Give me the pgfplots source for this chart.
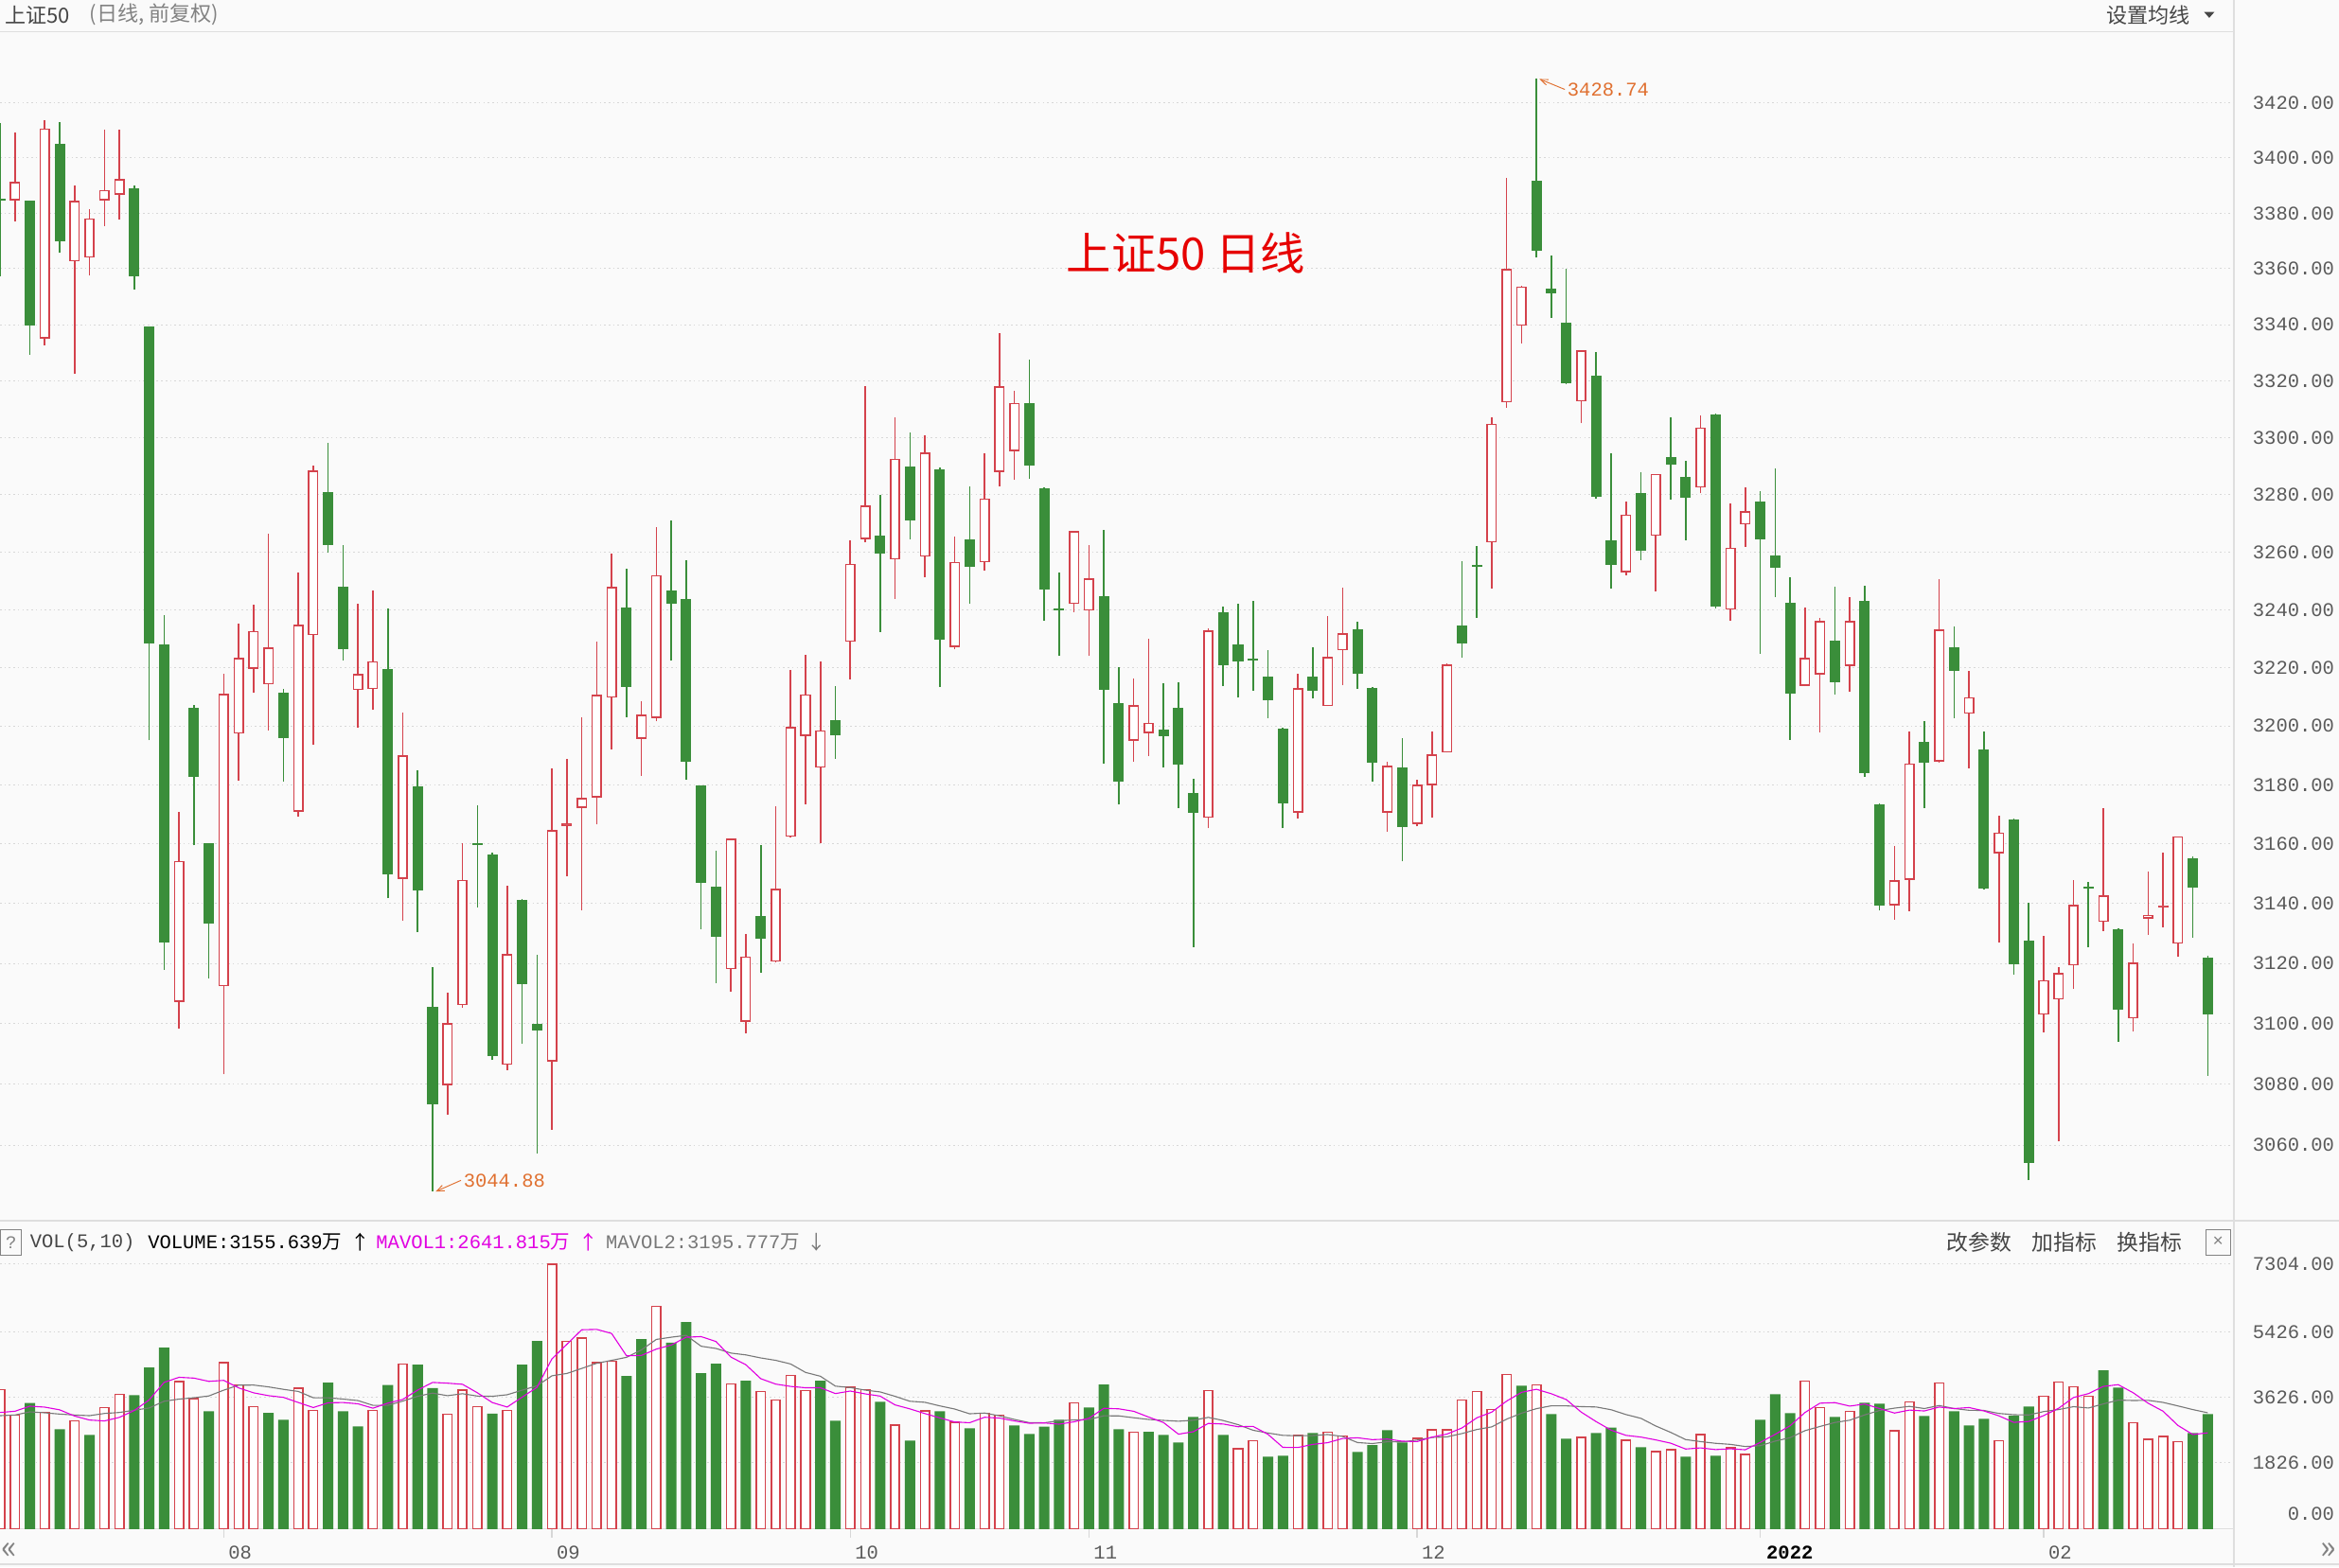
\documentclass[border=0pt]{standalone}
\usepackage{pgfplots}
\pgfplotsset{compat=1.18}
\usepackage{pgfplotstable}
\usepackage{fontspec}
\setmainfont{Liberation Mono}
\newfontfamily\cjk{Noto Sans CJK SC}
\usetikzlibrary{arrows.meta}

\definecolor{upc}{RGB}{212,66,76}
\definecolor{dnc}{RGB}{58,142,58}
\definecolor{bgc}{RGB}{250,250,250}
\definecolor{gridc}{RGB}{215,215,215}
\definecolor{sepc}{RGB}{222,222,222}
\definecolor{labc}{RGB}{90,90,90}
\definecolor{ma1c}{RGB}{225,0,225}
\definecolor{ma2c}{RGB}{120,120,120}
\definecolor{annc}{RGB}{224,112,48}
\definecolor{titc}{RGB}{230,0,0}
\definecolor{hdra}{RGB}{70,70,70}
\definecolor{hdrb}{RGB}{130,130,130}

% ---------- candles: close above open ----------
\pgfplotstableread{
i o h l c
1 3384.6 3409.2 3377.0 3391.3
3 3335.1 3413.8 3332.8 3410.8
5 3362.7 3390.1 3322.7 3384.6
6 3364.1 3381.6 3357.7 3378.2
7 3384.6 3410.3 3375.5 3388.3
8 3386.7 3410.3 3377.7 3392.4
12 3107.1 3170.8 3098.3 3154.3
15 3112.3 3217.8 3083.2 3211.1
16 3197.4 3235.2 3181.5 3223.5
17 3219.6 3241.8 3211.3 3232.6
18 3214.2 3266.4 3198.5 3227.0
20 3170.8 3252.9 3169.3 3234.8
21 3231.1 3290.2 3193.7 3288.4
24 3212.4 3242.2 3199.5 3217.9
25 3212.7 3246.8 3205.6 3222.2
27 3148.2 3204.5 3134.2 3190.1
30 3079.7 3110.1 3070.1 3100.2
31 3106.1 3160.3 3105.3 3147.9
34 3086.4 3146.0 3084.8 3123.2
37 3087.4 3185.5 3065.0 3164.8
38 3166.1 3188.8 3149.2 3166.9
39 3172.1 3203.2 3137.9 3175.6
40 3175.6 3228.9 3166.6 3210.7
41 3209.7 3259.7 3192.1 3247.9
43 3195.6 3208.5 3183.1 3204.0
44 3202.7 3268.7 3201.6 3252.1
49 3117.9 3161.8 3110.5 3161.7
50 3100.5 3129.8 3096.8 3122.3
52 3120.5 3172.6 3120.3 3144.8
53 3162.4 3219.2 3162.3 3199.7
54 3196.7 3224.5 3173.4 3210.9
55 3185.8 3222.3 3160.5 3198.7
57 3228.9 3264.2 3216.0 3255.9
58 3264.5 3318.4 3263.4 3276.1
60 3257.3 3307.3 3243.8 3292.7
62 3258.4 3301.1 3251.4 3294.8
64 3227.1 3265.5 3226.4 3256.6
66 3256.4 3294.4 3253.7 3278.6
67 3287.9 3336.9 3283.1 3318.2
68 3295.2 3316.7 3285.2 3312.2
72 3242.0 3267.3 3239.2 3267.3
73 3239.6 3262.3 3224.1 3250.7
76 3195.0 3216.4 3187.9 3207.3
77 3197.5 3229.9 3189.9 3201.1
81 3168.7 3233.4 3165.3 3232.8
87 3170.5 3217.9 3168.8 3213.0
89 3206.8 3237.8 3206.8 3223.8
90 3226.0 3247.5 3214.1 3231.9
93 3170.5 3187.9 3164.2 3186.5
95 3166.7 3181.9 3166.0 3180.2
96 3179.8 3198.2 3169.1 3190.4
97 3190.9 3221.4 3190.9 3221.1
100 3263.3 3307.2 3247.5 3305.0
101 3312.4 3392.9 3310.5 3360.0
102 3339.6 3354.0 3333.5 3353.8
106 3312.7 3331.0 3305.0 3331.0
109 3252.9 3277.5 3252.1 3273.0
111 3265.5 3287.3 3246.4 3287.3
114 3282.5 3307.9 3280.5 3303.5
116 3240.0 3276.9 3236.4 3261.6
117 3269.6 3282.6 3261.9 3274.2
121 3213.8 3240.8 3213.7 3223.3
122 3217.7 3237.1 3197.9 3236.1
124 3220.5 3244.4 3211.9 3236.1
127 3139.4 3159.4 3134.6 3147.8
128 3147.8 3198.3 3137.4 3187.3
130 3187.9 3250.5 3187.7 3233.2
132 3204.1 3218.9 3185.7 3209.8
134 3156.7 3169.6 3127.0 3163.8
137 3102.9 3129.2 3097.2 3114.5
138 3107.9 3118.7 3061.3 3116.7
139 3119.3 3148.0 3111.4 3139.5
141 3133.8 3172.2 3130.9 3142.7
143 3101.6 3126.6 3097.6 3120.3
144 3134.9 3150.7 3129.6 3136.2
145 3138.6 3157.0 3132.1 3139.4
146 3126.5 3162.7 3122.3 3162.7
}\candleup

% ---------- candles: close at or below open ----------
\pgfplotstableread{
i o h l c
0 3385.2 3412.6 3357.3 3384.4
2 3384.6 3384.6 3329.4 3339.6
4 3405.1 3413.1 3365.7 3369.8
9 3389.0 3390.0 3352.7 3357.3
10 3339.6 3339.6 3195.2 3228.3
11 3228.0 3238.0 3117.8 3126.8
13 3206.2 3207.3 3159.6 3182.6
14 3160.2 3160.2 3115.1 3133.2
19 3211.3 3212.7 3181.1 3195.7
22 3281.0 3298.3 3259.7 3262.5
23 3248.1 3262.5 3222.7 3226.3
26 3219.7 3240.5 3141.8 3149.8
28 3179.5 3185.1 3130.6 3144.4
29 3105.6 3118.9 3044.88 3073.3
32 3160.3 3173.1 3138.7 3159.5
33 3156.6 3157.0 3088.0 3089.3
35 3141.1 3141.5 3093.3 3113.1
36 3100.0 3122.9 3057.3 3097.6
42 3240.8 3254.2 3203.2 3213.5
45 3246.8 3271.0 3222.3 3242.1
46 3243.7 3257.3 3181.9 3188.0
47 3180.0 3180.0 3131.5 3146.8
48 3145.5 3157.7 3113.5 3128.8
51 3135.9 3159.7 3117.0 3128.2
56 3201.9 3213.6 3188.8 3196.8
59 3265.8 3279.8 3232.4 3259.5
61 3289.8 3301.8 3264.5 3270.8
63 3289.2 3289.5 3213.6 3229.8
65 3264.4 3282.8 3242.1 3254.9
69 3312.2 3327.7 3285.6 3290.4
70 3282.3 3282.6 3236.3 3247.1
71 3240.4 3252.8 3224.1 3239.6
74 3244.8 3267.6 3187.2 3212.3
75 3208.0 3220.3 3173.3 3181.2
78 3198.8 3214.7 3185.8 3196.4
79 3206.3 3215.1 3172.3 3186.8
80 3177.3 3182.1 3125.5 3170.5
82 3239.2 3241.0 3214.0 3221.0
83 3227.8 3242.1 3209.8 3222.2
84 3223.2 3243.2 3212.3 3222.4
85 3217.0 3226.1 3203.0 3209.0
86 3199.1 3199.5 3165.3 3173.7
88 3217.0 3227.1 3209.5 3212.1
91 3233.3 3236.0 3212.9 3218.0
92 3213.3 3213.4 3181.1 3187.4
94 3186.0 3195.9 3154.0 3165.6
98 3234.5 3256.9 3223.3 3228.2
99 3255.6 3262.0 3237.3 3254.8
103 3391.8 3428.74 3364.1 3366.5
104 3352.9 3364.7 3342.6 3351.2
105 3340.9 3360.0 3318.9 3319.3
107 3321.7 3330.5 3278.5 3279.1
108 3264.1 3294.4 3247.4 3255.6
110 3280.7 3288.0 3257.3 3260.5
112 3293.2 3307.1 3278.5 3290.5
113 3286.2 3292.0 3264.1 3278.8
115 3308.2 3308.5 3240.5 3240.9
118 3277.6 3281.4 3225.0 3264.4
119 3259.0 3289.3 3244.6 3254.5
120 3242.3 3251.2 3195.3 3211.1
123 3229.5 3248.1 3210.9 3215.1
125 3243.1 3248.1 3182.7 3183.8
126 3173.6 3173.8 3137.6 3139.4
129 3194.7 3201.9 3172.3 3187.4
131 3226.9 3234.3 3202.8 3218.9
133 3192.0 3198.2 3144.7 3145.1
135 3168.3 3168.5 3116.4 3119.6
136 3127.5 3140.1 3048.6 3054.1
140 3145.6 3147.1 3125.3 3144.8
142 3131.4 3131.7 3094.0 3104.6
147 3155.1 3155.7 3128.8 3145.3
148 3122.0 3122.4 3082.8 3102.9
}\candledn

% ---------- volume (10k), up days ----------
\pgfplotstableread{
i v
0 3840
1 3142
3 3220
5 2985
7 3351
8 3709
12 4058
13 3596
15 4582
16 3971
17 3377
20 3875
21 3273
25 3273
27 4547
30 3168
31 3822
32 3377
34 3264
37 7304
38 5175
39 5271
40 4582
41 4625
44 6144
49 3997
51 3788
52 3552
53 4233
54 3814
57 3901
58 3840
60 2871
62 3255
64 2941
66 3185
67 3142
72 3473
76 2670
81 3814
83 2217
84 2435
87 2574
89 2670
90 2566
95 2505
96 2740
97 2740
98 3552
99 3788
100 3290
101 4259
103 3971
106 2531
109 2452
111 2138
112 2190
114 2609
116 2243
117 2060
121 4076
122 3342
124 3238
127 2714
128 3500
130 4023
134 2435
137 3657
138 4049
139 3918
140 3657
143 2932
144 2478
145 2557
146 2409
}\volup

% ---------- volume (10k), down days ----------
\pgfplotstableread{
i v
2 3473
4 2749
6 2592
9 3692
10 4451
11 5001
14 3246
18 3203
19 3011
22 4032
23 3246
24 2828
26 3971
28 4529
29 3884
33 3177
35 4529
36 5184
42 4215
43 5236
45 5140
46 5707
47 4294
48 4556
50 4084
55 4084
56 2985
59 3508
61 2435
63 3246
65 2775
68 2854
69 2618
70 2819
71 3011
73 3351
74 3980
75 2749
77 2679
78 2592
79 2382
80 3089
82 2592
85 1990
86 2016
88 2644
91 2121
92 2313
93 2723
94 2382
102 3953
104 3168
105 2487
107 2644
108 2793
110 2252
113 1990
115 2016
118 3011
119 3718
120 3194
123 3089
125 3482
126 3456
129 3116
131 3246
132 2854
133 3037
135 3124
136 3377
141 4372
142 3901
147 2644
148 3168
}\voldn

% ---------- MAVOL1 (5) and MAVOL2 (10) ----------
\pgfplotstableread{
i m5 m10
0 3212 3124
1 3246 3142
2 3386 3229
3 3360 3203
4 3285 3168
5 3114 3142
6 3004 3124
7 2979 3185
8 3077 3212
9 3266 3275
10 3559 3336
11 4041 3522
12 4182 3581
13 4160 3618
14 4070 3668
15 4097 3828
16 3891 3966
17 3754 3968
18 3676 3918
19 3629 3850
20 3487 3792
21 3348 3619
22 3479 3617
23 3487 3582
24 3451 3540
25 3330 3409
26 3470 3409
27 3573 3526
28 3830 3659
29 4041 3746
30 4020 3675
31 3990 3730
32 3756 3665
33 3486 3658
34 3362 3701
35 3634 3827
36 3906 3948
37 4692 4224
38 5091 4288
39 5493 4427
40 5503 4569
41 5391 4649
42 4774 4733
43 4786 4939
44 4960 5227
45 5072 5288
46 5288 5340
47 5304 5039
48 5168 4977
49 4739 4850
50 4528 4800
51 4144 4716
52 3995 4650
53 3931 4550
54 3894 4317
55 3894 4211
56 3734 3939
57 3803 3899
58 3725 3828
59 3664 3779
60 3421 3658
61 3311 3522
62 3182 3493
63 3063 3394
64 2950 3307
65 2930 3176
66 3080 3196
67 3058 3120
68 2979 3021
69 2915 2932
70 2924 2927
71 2889 2985
72 2955 3006
73 3054 3017
74 3327 3121
75 3313 3118
76 3245 3067
77 3086 3020
78 2934 2994
79 2614 2971
80 2682 2998
81 2911 3078
82 2894 2990
83 2819 2876
84 2829 2722
85 2610 2646
86 2250 2581
87 2246 2570
88 2332 2575
89 2379 2604
90 2494 2552
91 2515 2383
92 2463 2355
93 2479 2405
94 2421 2400
95 2409 2451
96 2533 2524
97 2618 2540
98 2784 2631
99 3065 2743
100 3222 2815
101 3526 3029
102 3768 3193
103 3852 3318
104 3728 3397
105 3568 3395
106 3222 3374
107 2960 3364
108 2725 3288
109 2581 3155
110 2534 3051
111 2456 2839
112 2365 2663
113 2204 2465
114 2236 2409
115 2189 2362
116 2210 2333
117 2184 2274
118 2388 2296
119 2610 2423
120 2845 2517
121 3212 2711
122 3468 2826
123 3484 2936
124 3388 2999
125 3445 3145
126 3321 3267
127 3196 3332
128 3278 3381
129 3254 3321
130 3362 3404
131 3320 3321
132 3348 3272
133 3255 3267
134 3119 3186
135 2939 3151
136 2965 3143
137 3126 3237
138 3328 3292
139 3625 3372
140 3732 3335
141 3931 3448
142 3979 3553
143 3756 3542
144 3468 3547
145 3248 3490
146 2855 3393
147 2604 3292
148 2651 3204
}\mavol

% candle glyphs: drawn at (i, open) for up days and (i, close) for down days;
% offsets in pt follow the axis' logarithmic scale (6283.4 pt per unit of ln price)
\pgfdeclareplotmark{candleup}{%
  \pgfsetlinewidth{1pt}\pgfsetstrokecolor{upc}%
  \pgfpathmoveto{\pgfpoint{0pt}{\cLo pt}}\pgfpathlineto{\pgfpoint{0pt}{\cHi pt}}\pgfusepath{stroke}%
  \pgfsetfillcolor{upc}%
  \pgfpathrectangle{\pgfpoint{-3.5pt}{0pt}}{\pgfpoint{7pt}{\cBh pt}}\pgfusepath{fill}%
  \pgfsetfillcolor{white}%
  \pgfpathrectangle{\pgfpoint{-2.5pt}{1pt}}{\pgfpoint{5pt}{\cBi pt}}\pgfusepath{fill}%
}
\pgfdeclareplotmark{candledn}{%
  \pgfsetlinewidth{1pt}\pgfsetstrokecolor{dnc}%
  \pgfpathmoveto{\pgfpoint{0pt}{\cLo pt}}\pgfpathlineto{\pgfpoint{0pt}{\cHi pt}}\pgfusepath{stroke}%
  \pgfsetfillcolor{dnc}%
  \pgfpathrectangle{\pgfpoint{-3.5pt}{0pt}}{\pgfpoint{7pt}{\cBh pt}}\pgfusepath{fill}%
}

\newcommand\numfont{\fontsize{13}{15}\selectfont}

\begin{document}
\begin{tikzpicture}
\fill[bgc] (0pt,0pt) rectangle (1568pt,1051pt);
\useasboundingbox (0pt,0pt) rectangle (1568pt,1051pt);

\begin{scope}[x=1pt,y=1pt]
\draw[sepc, line width=0.8pt] (0,232.4) -- (1568,232.4);
\draw[sepc, line width=0.8pt] (1497.5,0) -- (1497.5,1051);
\draw[sepc, line width=0.6pt] (0,1029.5) -- (1497,1029.5);
\draw[sepc, line width=0.8pt] (0,25.7) -- (1497,25.7);
\draw[sepc, line width=0.8pt] (0,2) -- (1568,2);
\end{scope}

% ================= price panel (logarithmic price scale) =================
\begin{axis}[
  at={(0pt,233pt)}, anchor=south west, scale only axis,
  width=1497pt, height=796pt,
  xmin=0, xmax=149.7,
  y coord trafo/.code={\pgfmathparse{6283.4*ln(#1/3000)}},
  y coord inv trafo/.code={\pgfmathparse{3000*exp(#1/6283.4)}},
  ymin=3035.7, ymax=3445.7,
  axis line style={draw=none},
  xtick=\empty,
  ytick={3060,3080,3100,3120,3140,3160,3180,3200,3220,3240,3260,3280,3300,3320,3340,3360,3380,3400,3420},
  yticklabels={3060.00,3080.00,3100.00,3120.00,3140.00,3160.00,3180.00,3200.00,3220.00,3240.00,3260.00,3280.00,3300.00,3320.00,3340.00,3360.00,3380.00,3400.00,3420.00},
  ymajorgrids,
  major grid style={gridc, dash pattern=on 1pt off 2pt, line width=0.6pt},
  yticklabel pos=right, ytick pos=right, ytick style={draw=none},
  yticklabel style={anchor=east, inner sep=0pt, xshift=68pt, font=\numfont, text=labc},
  clip mode=individual,
]
\addplot[only marks, mark=candleup,
  visualization depends on={6283.4*ln(\thisrow{h}/\thisrow{o}) \as \cHi},
  visualization depends on={6283.4*ln(\thisrow{l}/\thisrow{o}) \as \cLo},
  visualization depends on={max(6283.4*ln(\thisrow{c}/\thisrow{o}),1.5) \as \cBh},
  visualization depends on={max(6283.4*ln(\thisrow{c}/\thisrow{o})-2,0) \as \cBi},
] table[x=i, y=o] {\candleup};
\addplot[only marks, mark=candledn,
  visualization depends on={6283.4*ln(\thisrow{h}/\thisrow{c}) \as \cHi},
  visualization depends on={6283.4*ln(\thisrow{l}/\thisrow{c}) \as \cLo},
  visualization depends on={max(6283.4*ln(\thisrow{o}/\thisrow{c}),1.5) \as \cBh},
] table[x=i, y=c] {\candledn};

\draw[annc, line width=0.6pt, {Straight Barb[length=5pt,width=4pt]}-]
  ([xshift=2pt]rel axis cs:0.68804,0.96108) -- ++(17pt,-7pt)
  node[anchor=west, inner sep=1.5pt, text=annc, font=\numfont] {3428.74};
\draw[annc, line width=0.6pt, {Straight Barb[length=5pt,width=4pt]}-]
  ([xshift=2pt]rel axis cs:0.19372,0.02383) -- ++(17pt,7.5pt)
  node[anchor=west, inner sep=1.5pt, text=annc, font=\numfont] {3044.88};
\end{axis}

% ================= volume panel =================
\begin{axis}[
  at={(0pt,25.7pt)}, anchor=south west, scale only axis,
  width=1497pt, height=183.3pt,
  xmin=0, xmax=149.7, ymin=0, ymax=7537,
  axis line style={draw=none},
  xtick=\empty,
  ytick={1826,3626,5426,7304},
  yticklabels={1826.00,3626.00,5426.00,7304.00},
  ymajorgrids,
  major grid style={gridc, dash pattern=on 1pt off 2pt, line width=0.6pt},
  yticklabel pos=right, ytick pos=right, ytick style={draw=none},
  yticklabel style={anchor=east, inner sep=0pt, xshift=68pt, font=\numfont, text=labc},
  clip mode=individual,
]
\addplot[ybar, bar width=6pt, bar shift=0pt, draw=upc, fill=white, line width=1pt, forget plot] table[x=i, y=v] {\volup};
\addplot[ybar, bar width=7pt, bar shift=0pt, draw=none, fill=dnc, forget plot] table[x=i, y=v] {\voldn};
\addplot[ma2c, line width=0.7pt, mark=none, forget plot] table[x=i, y=m10] {\mavol};
\addplot[ma1c, line width=0.7pt, mark=none, forget plot] table[x=i, y=m5] {\mavol};

\node[anchor=east, inner sep=0pt, font=\numfont, text=labc] at ([xshift=68pt,yshift=10.3pt]axis cs:149.7,0) {0.00};

\draw[gridc, line width=0.8pt] (axis cs:15,0) -- ++(0,-6pt);
\draw[gridc, line width=0.8pt] (axis cs:37,0) -- ++(0,-6pt);
\draw[gridc, line width=0.8pt] (axis cs:57,0) -- ++(0,-6pt);
\draw[gridc, line width=0.8pt] (axis cs:73,0) -- ++(0,-6pt);
\draw[gridc, line width=0.8pt] (axis cs:95,0) -- ++(0,-6pt);
\draw[gridc, line width=0.8pt] (axis cs:118,0) -- ++(0,-6pt);
\draw[gridc, line width=0.8pt] (axis cs:137,0) -- ++(0,-6pt);
\node[anchor=west, inner sep=0pt, font=\numfont, text=labc] at ([xshift=3pt,yshift=-15.7pt]axis cs:15,0) {08};
\node[anchor=west, inner sep=0pt, font=\numfont, text=labc] at ([xshift=3pt,yshift=-15.7pt]axis cs:37,0) {09};
\node[anchor=west, inner sep=0pt, font=\numfont, text=labc] at ([xshift=3pt,yshift=-15.7pt]axis cs:57,0) {10};
\node[anchor=west, inner sep=0pt, font=\numfont, text=labc] at ([xshift=3pt,yshift=-15.7pt]axis cs:73,0) {11};
\node[anchor=west, inner sep=0pt, font=\numfont, text=labc] at ([xshift=3pt,yshift=-15.7pt]axis cs:95,0) {12};
\node[anchor=west, inner sep=0pt, font=\numfont\bfseries, text=black] at ([xshift=4pt,yshift=-15.7pt]axis cs:118,0) {2022};
\node[anchor=west, inner sep=0pt, font=\numfont, text=labc] at ([xshift=3pt,yshift=-15.7pt]axis cs:137,0) {02};
\end{axis}

% ================= texts =================
\begin{scope}[x=1pt,y=1pt]
\node[anchor=west, inner sep=0pt, font={\cjk\fontsize{14}{16}\selectfont}, text=hdra] at (3,1041) {上证50};
\node[anchor=west, inner sep=0pt, font={\cjk\fontsize{14}{16}\selectfont}, text=hdrb] at (60,1041) {(日线, 前复权)};
\node[anchor=west, inner sep=0pt, font={\cjk\fontsize{14}{16}\selectfont}, text=hdra] at (1412,1041) {设置均线};
\fill[hdra] (1477.5,1043) -- (1484.5,1043) -- (1481,1039) -- cycle;

\node[font={\cjk\fontsize{30}{34}\selectfont}, text=titc] at (795,881) {上证50 日线};

\draw[hdrb, line width=0.6pt] (0.5,209.5) rectangle (14.5,226.5);
\node[font=\fontsize{12}{14}\selectfont, text=hdrb] at (7.5,218) {?};
\node[anchor=west, inner sep=0pt, font=\numfont, text=hdra] at (20,218) {VOL(5,10)};
\node[anchor=west, inner sep=0pt, font=\numfont, text=black] at (99,218) {VOLUME:3155.639{\cjk 万}};
\node[anchor=west, inner sep=0pt, font={\cjk\fontsize{13}{15}\selectfont}, text=black] at (235,218) {↑};
\node[anchor=west, inner sep=0pt, font=\numfont, text=ma1c] at (252,218) {MAVOL1:2641.815{\cjk 万}};
\node[anchor=west, inner sep=0pt, font={\cjk\fontsize{13}{15}\selectfont}, text=ma1c] at (388,218) {↑};
\node[anchor=west, inner sep=0pt, font=\numfont, text=ma2c] at (406,218) {MAVOL2:3195.777{\cjk 万}};
\node[anchor=west, inner sep=0pt, font={\cjk\fontsize{13}{15}\selectfont}, text=ma2c] at (541,218) {↓};

\node[anchor=west, inner sep=0pt, font={\cjk\fontsize{14.5}{16}\selectfont}, text=hdra] at (1305,218) {改参数};
\node[anchor=west, inner sep=0pt, font={\cjk\fontsize{14.5}{16}\selectfont}, text=hdra] at (1362,218) {加指标};
\node[anchor=west, inner sep=0pt, font={\cjk\fontsize{14.5}{16}\selectfont}, text=hdra] at (1419,218) {换指标};
\draw[hdrb, line width=0.6pt] (1479,209.5) rectangle (1495,226.5);
\node[font=\fontsize{12}{14}\selectfont, text=hdrb] at (1487,218) {×};

\node[font={\cjk\fontsize{22}{24}\selectfont}, text=hdrb] at (6,11) {«};
\node[font={\cjk\fontsize{22}{24}\selectfont}, text=hdrb] at (1561,11) {»};
\end{scope}
\end{tikzpicture}
\end{document}
